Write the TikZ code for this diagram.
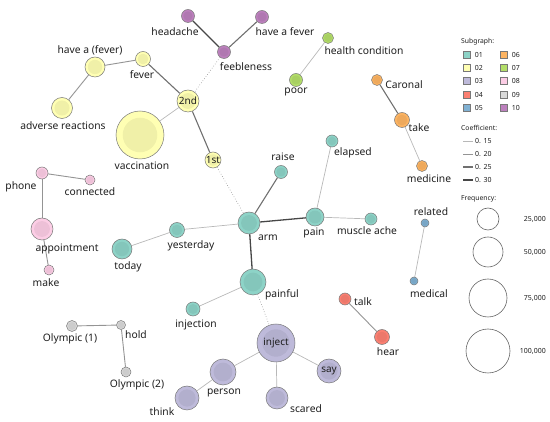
\documentclass[tikz,border=0pt]{standalone}
\usepackage{fontspec}
\setmainfont{Noto Sans}
\usetikzlibrary{positioning,backgrounds}
\definecolor{sgA}{HTML}{8DD3C7}
\definecolor{sgB}{HTML}{FFFFB3}
\definecolor{sgC}{HTML}{BEBADA}
\definecolor{sgD}{HTML}{FB8072}
\definecolor{sgE}{HTML}{80B1D3}
\definecolor{sgF}{HTML}{FDB462}
\definecolor{sgG}{HTML}{B3DE69}
\definecolor{sgH}{HTML}{FCCDE5}
\definecolor{sgI}{HTML}{D9D9D9}
\definecolor{sgJ}{HTML}{BC80BD}
\definecolor{kwedge}{RGB}{120,120,120}
\definecolor{kwink}{RGB}{30,30,30}
\tikzset{
  kw/.style={
    circle, draw=kwedge, line width=0.5pt, inner sep=0pt,
    font=\fontsize{10}{12}\selectfont, text=kwink
  },
  sz/.style={
    minimum size=#1,
    path picture={\fill[black, opacity=0.06] (path picture bounding box.center) circle[radius=0.36*#1];}
  },
  sg01/.style={kw, fill=sgA},
  sg02/.style={kw, fill=sgB},
  sg03/.style={kw, fill=sgC},
  sg04/.style={kw, fill=sgD},
  sg05/.style={kw, fill=sgE},
  sg06/.style={kw, fill=sgF},
  sg07/.style={kw, fill=sgG},
  sg08/.style={kw, fill=sgH},
  sg09/.style={kw, fill=sgI},
  sg10/.style={kw, fill=sgJ},
  lbl/.style={font=\fontsize{10.3}{12}\selectfont, text=kwink, inner sep=0pt},
  co15/.style={draw=black!28, line width=0.7pt},
  co20/.style={draw=black!42, line width=0.9pt},
  co25/.style={draw=black!56, line width=1.1pt},
  co30/.style={draw=black!72, line width=1.3pt},
  weak/.style={draw=black!45, dotted, line width=0.6pt},
  keyhead/.style={font=\fontsize{6.8}{8}\selectfont\bfseries, text=kwink, inner sep=0pt},
  keytxt/.style={font=\fontsize{7}{8}\selectfont, text=kwink, inner sep=0pt},
  swatch/.style={draw=kwedge, line width=0.5pt, minimum size=7pt, inner sep=0pt},
  freq/.style={circle, draw=black!60, line width=0.6pt, inner sep=0pt}
}
\begin{document}
\begin{tikzpicture}[x=1pt, y=-1pt]
  \useasboundingbox (0,0) rectangle (550,422);
  % keywords
  \node[sg10, sz=13pt] (headache) at (188,16) {};
  \node[sg10, sz=13pt] (havefever) at (262,17) {};
  \node[sg10, sz=13pt] (feeble) at (224,52) {};
  \node[sg02, sz=22pt] (second) at (188,101) {2nd};
  \node[sg02, sz=15pt] (fever) at (143,59) {};
  \node[sg02, sz=20pt] (havea) at (95,67) {};
  \node[sg02, sz=21pt] (adverse) at (62,108) {};
  \node[sg02, sz=48pt] (vacc) at (140,135) {};
  \node[sg02, sz=16pt] (first) at (213,160) {1st};
  \node[sg07, sz=11pt] (health) at (328,38) {};
  \node[sg07, sz=13pt] (poor) at (296,80) {};
  \node[sg06, sz=11pt] (caronal) at (377,80) {};
  \node[sg06, sz=15pt] (take) at (402,120) {};
  \node[sg06, sz=11pt] (medicine) at (422,166) {};
  \node[sg08, sz=12pt] (phone) at (42,173) {};
  \node[sg08, sz=10pt] (connected) at (90,180) {};
  \node[sg08, sz=22pt] (appoint) at (42,229) {};
  \node[sg08, sz=10pt] (make) at (49,270) {};
  \node[sg01, sz=20pt] (today) at (122,249) {};
  \node[sg01, sz=15pt] (yesterday) at (177,230) {};
  \node[sg01, sz=22pt] (arm) at (249,223) {};
  \node[sg01, sz=13pt] (raise) at (281,172) {};
  \node[sg01, sz=12pt] (elapsed) at (332,141) {};
  \node[sg01, sz=18pt] (pain) at (315,217) {};
  \node[sg01, sz=12pt] (muscle) at (371,219) {};
  \node[sg01, sz=26pt] (painful) at (253,282) {};
  \node[sg01, sz=14pt] (injection) at (193,309) {};
  \node[sg05, sz=8pt] (related) at (425,223) {};
  \node[sg05, sz=8pt] (medical) at (414,281) {};
  \node[sg04, sz=12pt] (talk) at (345,299) {};
  \node[sg04, sz=15pt] (hear) at (382,337) {};
  \node[sg09, sz=11pt] (olyone) at (72,326) {};
  \node[sg09, sz=9pt] (hold) at (121,325) {};
  \node[sg09, sz=10pt] (olytwo) at (126,372) {};
  \node[sg03, sz=38pt] (inject) at (276,343) {inject};
  \node[sg03, sz=26pt] (person) at (223,372) {};
  \node[sg03, sz=24pt] (think) at (187,398) {};
  \node[sg03, sz=22pt] (scared) at (277,398) {};
  \node[sg03, sz=24pt] (say) at (329,371) {say};
  % labels
  \node[lbl] at (175,32) {headache};
  \node[lbl] at (285,32) {have a fever};
  \node[lbl] at (246,67) {feebleness};
  \node[lbl] at (90,50) {have a (fever)};
  \node[lbl] at (142,75) {fever};
  \node[lbl] at (63,126) {adverse reactions};
  \node[lbl] at (142,166) {vaccination};
  \node[lbl] at (364,51) {health condition};
  \node[lbl] at (296,92) {poor};
  \node[lbl] at (404,85) {Caronal};
  \node[lbl] at (419,128) {take};
  \node[lbl] at (429,179) {medicine};
  \node[lbl] at (21,187) {phone};
  \node[lbl] at (90,192) {connected};
  \node[lbl] at (67,249) {appointment};
  \node[lbl] at (46,283) {make};
  \node[lbl] at (128,267) {today};
  \node[lbl] at (191,246) {yesterday};
  \node[lbl] at (268,238) {arm};
  \node[lbl] at (283,157) {raise};
  \node[lbl] at (353,153) {elapsed};
  \node[lbl] at (314,233) {pain};
  \node[lbl] at (367,231) {muscle ache};
  \node[lbl] at (282,295) {painful};
  \node[lbl] at (196,325) {injection};
  \node[lbl] at (431,212) {related};
  \node[lbl] at (429,294) {medical};
  \node[lbl] at (363,302) {talk};
  \node[lbl] at (388,352) {hear};
  \node[lbl] at (70,339) {Olympic (1)};
  \node[lbl] at (136,335) {hold};
  \node[lbl] at (137,385) {Olympic (2)};
  \node[lbl] at (224,393) {person};
  \node[lbl] at (162,412) {think};
  \node[lbl] at (306,409) {scared};
  % co-occurrence links
  \begin{scope}[on background layer]
    \draw[co30] (headache) -- (feeble);
    \draw[co25] (havefever) -- (feeble);
    \draw[weak] (feeble) -- (second);
    \draw[co25] (second) -- (fever);
    \draw[co20] (fever) -- (havea);
    \draw[co20] (havea) -- (adverse);
    \draw[co15] (second) -- (vacc);
    \draw[co25] (second) -- (first);
    \draw[weak] (first) -- (arm);
    \draw[co25] (arm) -- (raise);
    \draw[co30] (arm) -- (pain);
    \draw[co15] (pain) -- (elapsed);
    \draw[co15] (pain) -- (muscle);
    \draw[co15] (arm) -- (yesterday);
    \draw[co15] (yesterday) -- (today);
    \draw[co30] (arm) -- (painful);
    \draw[co15] (painful) -- (injection);
    \draw[weak] (painful) -- (inject);
    \draw[co15] (inject) -- (person);
    \draw[co15] (inject) -- (say);
    \draw[co15] (inject) -- (scared);
    \draw[co15] (person) -- (think);
    \draw[co20] (talk) -- (hear);
    \draw[co15] (related) -- (medical);
    \draw[co15] (health) -- (poor);
    \draw[co25] (caronal) -- (take);
    \draw[co15] (take) -- (medicine);
    \draw[co20] (phone) -- (connected);
    \draw[co20] (phone) -- (appoint);
    \draw[co20] (appoint) -- (make);
    \draw[co20] (olyone) -- (hold);
    \draw[co20] (hold) -- (olytwo);
  \end{scope}
  % legend: subgraph
  \node[keyhead, anchor=west] (sghead) at (461,42) {Subgraph:};
  \node[swatch, fill=sgA] (k01) at (467,55) {};
  \node[swatch, fill=sgB] (k02) at (467,68) {};
  \node[swatch, fill=sgC] (k03) at (467,81) {};
  \node[swatch, fill=sgD] (k04) at (467,95) {};
  \node[swatch, fill=sgE] (k05) at (467,108) {};
  \node[swatch, fill=sgF] (k06) at (504,55) {};
  \node[swatch, fill=sgG] (k07) at (504,68) {};
  \node[swatch, fill=sgH] (k08) at (504,81) {};
  \node[swatch, fill=sgI] (k09) at (504,95) {};
  \node[swatch, fill=sgJ] (k10) at (504,108) {};
  \node[keytxt, right=4pt of k01] {01};
  \node[keytxt, right=4pt of k02] {02};
  \node[keytxt, right=4pt of k03] {03};
  \node[keytxt, right=4pt of k04] {04};
  \node[keytxt, right=4pt of k05] {05};
  \node[keytxt, right=4pt of k06] {06};
  \node[keytxt, right=4pt of k07] {07};
  \node[keytxt, right=4pt of k08] {08};
  \node[keytxt, right=4pt of k09] {09};
  \node[keytxt, right=4pt of k10] {10};
  % legend: coefficient
  \node[keyhead, anchor=west] (cohead) at (461,128) {Coefficient:};
  \node[keytxt, anchor=west] (c15) at (475,141) {0. 15};
  \node[keytxt, anchor=west] (c20) at (475,154) {0. 20};
  \node[keytxt, anchor=west] (c25) at (475,167) {0. 25};
  \node[keytxt, anchor=west] (c30) at (475,180) {0. 30};
  \draw[co15] (c15.west) ++(-2,0) -- ++(-10,0);
  \draw[co20] (c20.west) ++(-2,0) -- ++(-10,0);
  \draw[co25] (c25.west) ++(-2,0) -- ++(-10,0);
  \draw[co30] (c30.west) ++(-2,0) -- ++(-10,0);
  % legend: frequency
  \node[keyhead, anchor=west] (frhead) at (461,199) {Frequency:};
  \node[freq, minimum size=22pt] (f25) at (488,219) {};
  \node[freq, minimum size=30pt] (f50) at (488,252) {};
  \node[freq, minimum size=38pt] (f75) at (488,298) {};
  \node[freq, minimum size=44pt] (f100) at (488,351) {};
  \node[keytxt, anchor=east] at (546,219) {25,000};
  \node[keytxt, anchor=east] at (546,252) {50,000};
  \node[keytxt, anchor=east] at (546,298) {75,000};
  \node[keytxt, anchor=east] at (546,351) {100,000};
\end{tikzpicture}
\end{document}
